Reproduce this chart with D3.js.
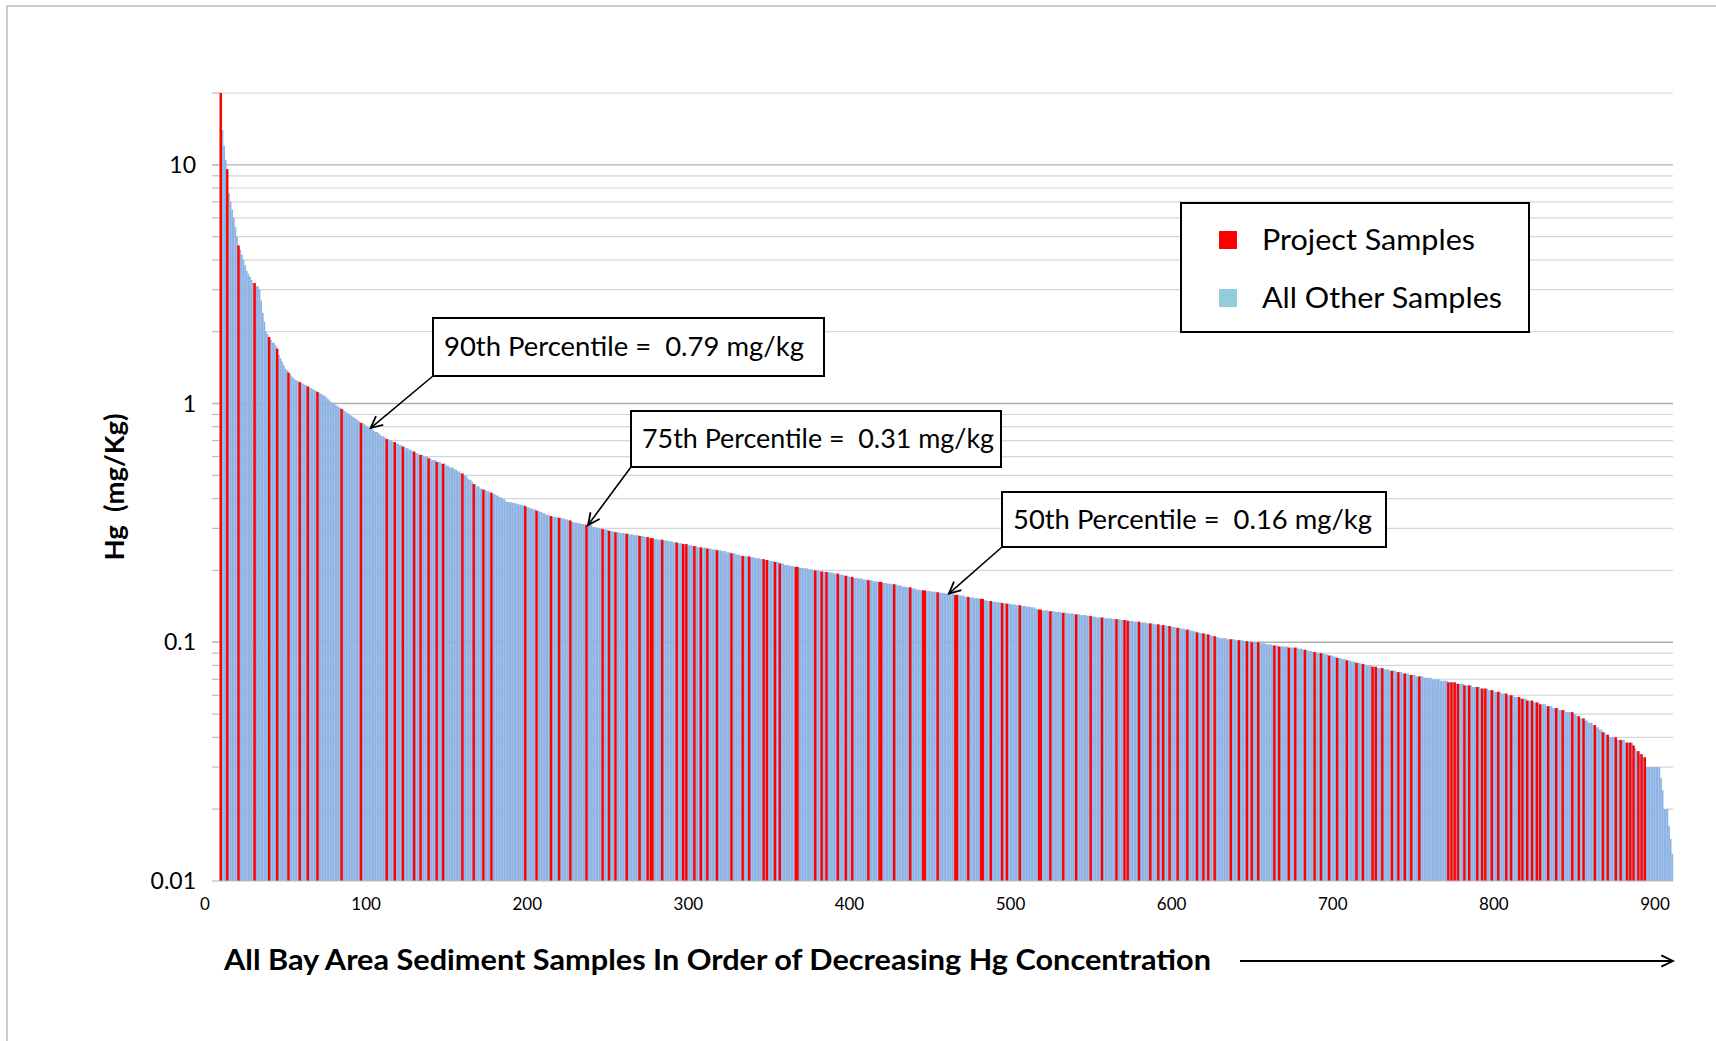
<!DOCTYPE html>
<html><head><meta charset="utf-8">
<script src="https://cdn.jsdelivr.net/npm/d3@7"></script>
<style>
body{margin:0;background:#fff;}
svg{display:block;font-family:Lato,"Open Sans",sans-serif;}
text{white-space:pre;}
</style>
</head><body>
<svg id="c" width="1716" height="1041"></svg>
<script>
// Hg concentration (mg/kg) of each sample, in decreasing order, as [value, number of consecutive samples]
const hgRuns = [
[20,1],[14,1],[12,1],[10.5,1],[9.6,1],[7.6,1],[7.0,1],[6.5,1],[6.0,1],[5.5,1],[5.0,1],[4.6,1],[4.4,1],[4.2,1],[4.0,1],[3.8,1],[3.6,1],[3.5,1],[3.4,1],[3.3,1],
[3.2,2],[3.1,2],[3.0,1],
[2.7,1],[2.4,1],[2.2,1],[2.0,1],[1.95,1],[1.9,1],
[1.85,1],[1.8,2],[1.75,1],
[1.7,1],[1.6,1],[1.55,1],[1.5,1],[1.45,1],[1.4,1],
[1.38,1],[1.35,1],[1.33,1],[1.3,1],[1.28,1],[1.26,1],[1.25,1],[1.24,1],[1.23,1],[1.22,1],[1.21,1],[1.2,1],
[1.19,1],[1.18,1],[1.17,1],[1.16,1],[1.15,1],[1.14,1],[1.13,1],[1.12,1],
[1.11,1],[1.1,1],[1.09,1],[1.08,1],[1.07,1],[1.05,1],[1.04,1],
[1.02,1],[1.01,1],[1.0,1],[0.99,1],[0.98,1],[0.97,1],[0.96,1],[0.95,1],[0.94,1],[0.93,1],[0.92,1],[0.91,1],[0.90,1],[0.89,1],
[0.88,1],[0.87,1],[0.86,1],[0.85,1],[0.84,1],[0.83,2],[0.82,1],[0.81,1],[0.80,1],[0.79,2],
[0.78,1],[0.77,1],[0.76,2],[0.75,1],[0.74,1],[0.73,2],[0.72,1],[0.71,2],[0.70,2],[0.69,2],
[0.68,2],[0.67,2],[0.66,2],[0.65,2],[0.64,2],[0.63,2],[0.62,1],
[0.62,1],[0.61,3],[0.60,3],[0.59,2],[0.58,3],[0.57,2],
[0.57,1],[0.56,3],[0.55,2],[0.54,3],[0.53,2],[0.52,2],[0.51,2],
[0.50,2],[0.49,1],[0.48,2],[0.47,1],[0.46,2],[0.45,2],[0.44,2],
[0.436,2],[0.43,2],[0.424,2],[0.418,2],[0.412,2],[0.405,2],[0.398,2],
[0.388,2],[0.386,2],[0.384,2],[0.381,2],[0.378,2],[0.375,2],[0.372,1],
[0.368,2],[0.364,2],[0.360,2],[0.356,2],[0.352,2],[0.347,2],[0.342,2],
[0.338,2],[0.336,2],[0.334,2],[0.332,2],[0.330,2],[0.327,2],[0.324,2],
[0.319,2],[0.317,2],[0.315,2],[0.313,2],[0.311,2],[0.310,3],
[0.304,2],[0.302,2],[0.300,2],[0.298,2],[0.296,2],[0.293,2],[0.291,2],
[0.289,3],[0.287,3],[0.285,3],[0.283,3],[0.281,3],[0.279,3],[0.276,3],[0.273,3],[0.270,3],
[0.269,3],[0.267,3],[0.265,3],[0.262,3],[0.260,3],[0.258,3],[0.255,3],[0.253,3],[0.250,3],
[0.249,3],[0.247,3],[0.245,3],[0.243,3],[0.241,3],[0.238,3],[0.236,3],[0.233,3],[0.230,3],
[0.229,3],[0.227,3],[0.225,3],[0.223,3],[0.221,3],[0.219,3],[0.217,3],[0.214,3],[0.211,3],
[0.209,3],[0.207,3],[0.205,3],[0.204,3],[0.202,3],[0.200,4],[0.198,3],[0.197,3],[0.196,3],
[0.194,3],[0.192,3],[0.190,3],[0.188,3],[0.186,3],[0.185,3],[0.183,3],[0.182,3],[0.180,3],
[0.179,3],[0.177,3],[0.176,3],[0.175,3],[0.173,3],[0.171,3],[0.170,3],[0.168,3],[0.166,3],
[0.165,3],[0.164,3],[0.163,3],[0.162,3],[0.161,3],[0.160,3],
[0.159,3],[0.158,3],[0.157,3],[0.155,3],[0.154,3],[0.153,3],[0.152,3],[0.150,2],
[0.149,3],[0.148,3],[0.147,3],[0.146,3],[0.145,3],[0.144,3],[0.143,3],[0.142,3],[0.141,3],[0.140,3],[0.138,2],[0.137,2],
[0.136,4],[0.135,4],[0.134,4],[0.133,4],[0.132,4],[0.131,4],[0.130,4],[0.129,3],[0.128,3],
[0.127,5],[0.126,5],[0.125,5],[0.124,4],[0.123,4],[0.122,4],
[0.121,4],[0.120,4],[0.119,4],[0.118,4],[0.117,3],[0.116,3],[0.115,3],
[0.114,3],[0.113,3],[0.112,2],[0.111,2],[0.110,2],[0.109,3],[0.108,3],[0.107,2],[0.106,2],[0.105,2],
[0.104,5],[0.103,5],[0.102,5],[0.101,5],[0.100,5],
[0.099,4],[0.098,4],[0.097,4],[0.096,6],[0.095,6],
[0.094,3],[0.093,3],[0.092,3],[0.091,3],[0.090,4],[0.089,3],[0.088,3],[0.087,2],
[0.086,3],[0.085,3],[0.084,3],[0.083,3],[0.082,3],[0.081,3],[0.080,4],[0.079,3],
[0.078,4],[0.077,4],[0.076,4],[0.075,4],[0.074,4],[0.073,4],
[0.072,5],[0.071,5],[0.070,5],[0.069,5],[0.068,5],
[0.067,5],[0.066,5],[0.065,5],[0.064,5],[0.063,4],
[0.062,4],[0.061,4],[0.060,4],[0.059,4],[0.058,4],[0.057,4],
[0.056,4],[0.055,4],[0.054,4],[0.053,4],[0.052,4],[0.051,5],
[0.050,2],[0.049,2],[0.048,3],[0.047,2],[0.046,3],
[0.045,2],[0.044,2],[0.043,2],[0.042,2],[0.041,2],[0.040,2],
[0.040,3],[0.039,5],[0.038,5],
[0.037,1],[0.036,1],[0.035,2],[0.034,2],[0.033,2],
[0.030,9],
[0.027,1],[0.024,1],[0.020,3],[0.017,1],[0.015,1],[0.013,1]
];

// positions (0-based order) of the Project Samples among all samples
const projectIdx = [0,4,11,21,30,35,42,49,54,60,75,87,103,108,113,120,124,129,134,138,150,157,163,168,189,196,205,210,217,227,237,241,245,252,260,265,267,268,274,283,287,289,294,298,302,308,317,324,328,337,339,344,347,357,358,369,373,376,383,388,392,402,409,410,418,428,436,437,445,456,457,464,472,473,478,485,488,496,508,509,515,523,531,540,547,556,561,563,570,577,582,585,589,594,600,606,610,613,617,627,632,637,640,644,654,657,663,667,673,679,683,688,693,699,705,709,715,717,721,727,731,735,739,744,762,764,766,768,772,775,780,783,785,789,793,798,801,806,808,811,814,817,819,824,829,833,839,843,846,853,858,861,866,869,873,875,877,880,882,884];

const yTickValues = [0.01, 0.1, 1, 10];
const yTickLabels = ["0.01", "0.1", "1", "10"];
const xTickValues = [0, 100, 200, 300, 400, 500, 600, 700, 800, 900];
const legendLabels = ["Project Samples", "All Other Samples"];
const percentileLabels = ["90th Percentile =  0.79 mg/kg", "75th Percentile =  0.31 mg/kg", "50th Percentile =  0.16 mg/kg"];
const percentileRanks = [93, 228, 452];
const percentileValues = [0.79, 0.31, 0.16];
const xTitle = "All Bay Area Sediment Samples In Order of Decreasing Hg Concentration";
const yTitle = "Hg  (mg/Kg)";

// expand runs into one value per sample
const samples = [];
hgRuns.forEach(([v, n]) => { for (let k = 0; k < n; k++) samples.push(v); });
const projSet = new Set(projectIdx);
const data = samples.map((v, i) => ({i, v, project: projSet.has(i)}));

const svg = d3.select("#c");
const L = 220, R = 1673, T = 93, B = 881;
const RED = "#ff0000", BLUE = "#8fb4e3", LEG_BLUE = "#93cddd";

const x = d3.scaleBand().domain(d3.range(data.length)).range([L, R]).padding(0);
const xt = d3.scaleLinear().domain([0, 900]).range([205, 1655]);
const y = d3.scaleLog().domain([0.01, 20]).range([B, T]);

// chart border
svg.append("rect").attr("x", 7).attr("y", 6).attr("width", 1740).attr("height", 1060)
  .attr("fill", "none").attr("stroke", "#a8a8a8").attr("stroke-width", 1.2);

// gridlines
const minor = [];
[0.01, 0.1, 1, 10].forEach(d => { for (let k = 2; k <= 9; k++) { const v = k * d; if (v <= 20.001) minor.push(v); } });
svg.append("g").selectAll("line").data(minor).join("line")
  .attr("x1", L).attr("x2", R).attr("y1", d => y(d)).attr("y2", d => y(d))
  .attr("stroke", "#d6d6d6").attr("stroke-width", 1.2);
svg.append("g").selectAll("line").data(yTickValues.slice(1)).join("line")
  .attr("x1", L - 8).attr("x2", R).attr("y1", d => y(d)).attr("y2", d => y(d))
  .attr("stroke", "#b0b0b0").attr("stroke-width", 1.4);

// y axis line + ticks
svg.append("line").attr("x1", L).attr("x2", L).attr("y1", T).attr("y2", B).attr("stroke", "#bdbdbd").attr("stroke-width", 1.2);
svg.append("g").selectAll("line").data(minor.concat(yTickValues)).join("line")
  .attr("x1", L - 8).attr("x2", L).attr("y1", d => y(d)).attr("y2", d => y(d))
  .attr("stroke", "#bdbdbd").attr("stroke-width", 1.2);

// bars
const bw = x.bandwidth();
svg.append("g").selectAll("rect").data(data.filter(d => !d.project)).join("rect")
  .attr("x", d => x(d.i)).attr("width", bw + 0.15)
  .attr("y", d => y(d.v)).attr("height", d => B - y(d.v))
  .attr("fill", BLUE);
svg.append("g").selectAll("rect").data(data.filter(d => d.project)).join("rect")
  .attr("x", d => x(d.i) - 0.4).attr("width", bw + 0.8)
  .attr("y", d => y(d.v)).attr("height", d => B - y(d.v))
  .attr("fill", RED);

// x axis line
svg.append("line").attr("x1", L).attr("x2", R).attr("y1", B).attr("y2", B).attr("stroke", "#bdbdbd").attr("stroke-width", 1.2);

// y tick labels
svg.append("g").selectAll("text").data(yTickValues).join("text")
  .attr("x", 196).attr("y", d => y(d) + 8).attr("text-anchor", "end")
  .attr("font-size", 23).attr("fill", "#000")
  .text((d, i) => yTickLabels[i]);

// x tick labels
svg.append("g").selectAll("text").data(xTickValues).join("text")
  .attr("x", d => xt(d)).attr("y", 910).attr("text-anchor", "middle")
  .attr("font-size", 17).attr("fill", "#000")
  .text(d => d);

// axis titles
svg.append("text").attr("x", 224).attr("y", 970).attr("font-size", 28).attr("font-weight", "bold")
  .attr("textLength", 987).attr("lengthAdjust", "spacingAndGlyphs").text(xTitle);
svg.append("text").attr("transform", "translate(124,487) rotate(-90)").attr("text-anchor", "middle")
  .attr("font-size", 26).attr("font-weight", "bold")
  .attr("textLength", 147).attr("lengthAdjust", "spacingAndGlyphs").text(yTitle);

// long arrow after x title
function arrowHead(g, x1, y1, x2, y2, len, spread) {
  const a = Math.atan2(y2 - y1, x2 - x1);
  const p1 = [x2 - len * Math.cos(a - spread), y2 - len * Math.sin(a - spread)];
  const p2 = [x2 - len * Math.cos(a + spread), y2 - len * Math.sin(a + spread)];
  g.append("path").attr("d", `M${p1[0]},${p1[1]}L${x2},${y2}L${p2[0]},${p2[1]}`)
    .attr("fill", "none").attr("stroke", "#000").attr("stroke-width", 1.8);
}
const ga = svg.append("g");
ga.append("line").attr("x1", 1240).attr("x2", 1673).attr("y1", 961).attr("y2", 961).attr("stroke", "#000").attr("stroke-width", 2);
arrowHead(ga, 1240, 961, 1673, 961, 13, 0.45);

// percentile annotation boxes
const boxes = [
  {x: 433, y: 318, w: 391, h: 58, tw: 360},
  {x: 631, y: 411, w: 370, h: 56, tw: 352},
  {x: 1002, y: 492, w: 384, h: 55, tw: 359}
];
boxes.forEach((b, k) => {
  const g = svg.append("g");
  const tx = x(percentileRanks[k]) + bw / 2, ty = y(percentileValues[k]);
  g.append("line").attr("x1", b.x).attr("y1", b.y + b.h).attr("x2", tx).attr("y2", ty)
    .attr("stroke", "#000").attr("stroke-width", 1.6);
  arrowHead(g, b.x, b.y + b.h, tx, ty, 13, 0.45);
  g.append("rect").attr("x", b.x).attr("y", b.y).attr("width", b.w).attr("height", b.h)
    .attr("fill", "#fff").attr("stroke", "#000").attr("stroke-width", 2);
  g.append("text").attr("x", b.x + 11).attr("y", b.y + b.h / 2 + 9)
    .attr("font-size", 26.5).attr("fill", "#000")
    .attr("textLength", b.tw).attr("lengthAdjust", "spacingAndGlyphs").text(percentileLabels[k]);
});

// legend
const lg = svg.append("g");
lg.append("rect").attr("x", 1181).attr("y", 203).attr("width", 348).attr("height", 129)
  .attr("fill", "#fff").attr("stroke", "#000").attr("stroke-width", 2);
const legColors = [RED, LEG_BLUE];
const legW = [213, 240];
legendLabels.forEach((t, k) => {
  const cy = 240 + k * 58;
  lg.append("rect").attr("x", 1219).attr("y", cy - 9).attr("width", 18).attr("height", 18).attr("fill", legColors[k]);
  lg.append("text").attr("x", 1262).attr("y", cy + 10).attr("font-size", 29.5).attr("fill", "#000")
    .attr("textLength", legW[k]).attr("lengthAdjust", "spacingAndGlyphs").text(t);
});
</script>
</body></html>
